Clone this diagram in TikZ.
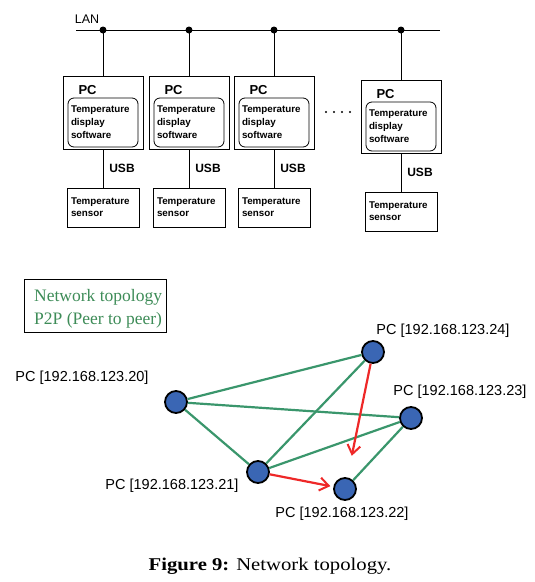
\documentclass[tikz,border=0pt]{standalone}
\usepackage{fontspec}
\setmainfont{Liberation Sans}
\newfontfamily\serifcap{Liberation Serif}
\newfontfamily\serifwide[FakeStretch=1.15]{Liberation Serif}
\usepackage{xcolor}
\usepackage{tikz}
\usetikzlibrary{arrows.meta}

\definecolor{linkgreen}{RGB}{58,150,108}
\definecolor{textgreen}{RGB}{62,140,88}
\definecolor{nodeblue}{RGB}{58,102,180}
\definecolor{msgred}{RGB}{238,40,40}

\tikzset{
    pcbox/.style={draw, line width=0.8, minimum width=80, minimum height=73, inner sep=0},
    swbox/.style={draw, line width=0.8, rounded corners=6, minimum width=70, minimum height=49,
        text width=64, align=left, inner sep=2, font=\fontsize{9.8}{13}\selectfont\bfseries},
    sensorbox/.style={draw, line width=0.8, minimum width=72, minimum height=39,
        text width=64, align=left, inner sep=2, font=\fontsize{9.8}{12}\selectfont\bfseries},
    pclbl/.style={font=\fontsize{13}{15}\selectfont\bfseries},
    usblbl/.style={font=\fontsize{12}{14}\selectfont\bfseries},
    tap/.style={circle, fill=black, inner sep=0, minimum size=7},
    peer/.style={circle, draw=black, line width=1.8, fill=nodeblue, inner sep=0, minimum size=22},
    iplbl/.style={font=\fontsize{14.5}{16}\selectfont},
    link/.style={linkgreen, line width=2.2},
    msg/.style={msgred, line width=2.2, -{Straight Barb[length=9,width=13,line width=2]}}
}

\begin{document}
\begin{tikzpicture}[x=1pt, y=-1pt]
    \useasboundingbox (0,0) rectangle (535,582);

    % LAN bus
    \node[font=\fontsize{12.5}{14}\selectfont] (lan) at (87,19) {LAN};
    \coordinate (busL) at (76,30);
    \coordinate (busR) at (440,30);
    \draw[line width=0.8] (busL) -- (busR);

    % PCs with their sensors
    \foreach \i/\x/\dy in {1/103/0, 2/189/0, 3/274/0, 4/401/4} {
        \node[tap] (tap\i) at (\x,30) {};
        \node[pcbox] (pc\i) at (\x,112.5+\dy) {};
        \node[pclbl, anchor=west] (pct\i) at (\x-28,90+\dy) {PC};
        \node[swbox] (sw\i) at (\x,122.5+\dy) {Temperature\\display\\software};
        \node[sensorbox] (sen\i) at (\x,207.5+\dy) {Temperature\\sensor};
        \node[usblbl] (usb\i) at (\x+19,168+\dy) {USB};
        \draw[line width=0.8] (tap\i.center) -- (pc\i.north);
        \draw[line width=0.8] (pc\i.south) -- (sen\i.north);
    }

    % more PCs in between
    \foreach \k in {0,1,2,3}
        \fill (326+8*\k,112) circle (1.1);

    % legend
    \node[draw=black, line width=0.8, minimum width=142, minimum height=53, inner sep=0] (legendbox) at (95,305.5) {};
    \node[align=left, inner sep=0, text=textgreen, font=\serifcap\fontsize{17.5}{23}\selectfont,
        anchor=west] (legend) at (34,308.5) {Network topology\\P2P (Peer to peer)};

    % peers
    \node[peer] (n20) at (176,402) {};
    \node[peer] (n24) at (373,352) {};
    \node[peer] (n23) at (411,418) {};
    \node[peer] (n21) at (258,472) {};
    \node[peer] (n22) at (345,489) {};

    \node[iplbl] (l20) at (82,378) {PC [192.168.123.20]};
    \node[iplbl] (l24) at (443,331) {PC [192.168.123.24]};
    \node[iplbl] (l23) at (460,392) {PC [192.168.123.23]};
    \node[iplbl] (l21) at (172,486) {PC [192.168.123.21]};
    \node[iplbl] (l22) at (342,514) {PC [192.168.123.22]};

    % peer links
    \draw[link] (n20) -- (n24);
    \draw[link] (n20) -- (n23);
    \draw[link] (n20) -- (n21);
    \draw[link] (n21) -- (n24);
    \draw[link] (n21) -- (n23);
    \draw[link] (n23) -- (n22);

    % requests
    \draw[msg, shorten >=22] (n24) -- (n22);
    \draw[msg, shorten >=3] (n21) -- (n22);

    % caption
    \node[font=\serifwide\fontsize{18}{20}\selectfont] (cap) at (270,566)
        {\textbf{Figure 9:} Network topology.};
\end{tikzpicture}
\end{document}
